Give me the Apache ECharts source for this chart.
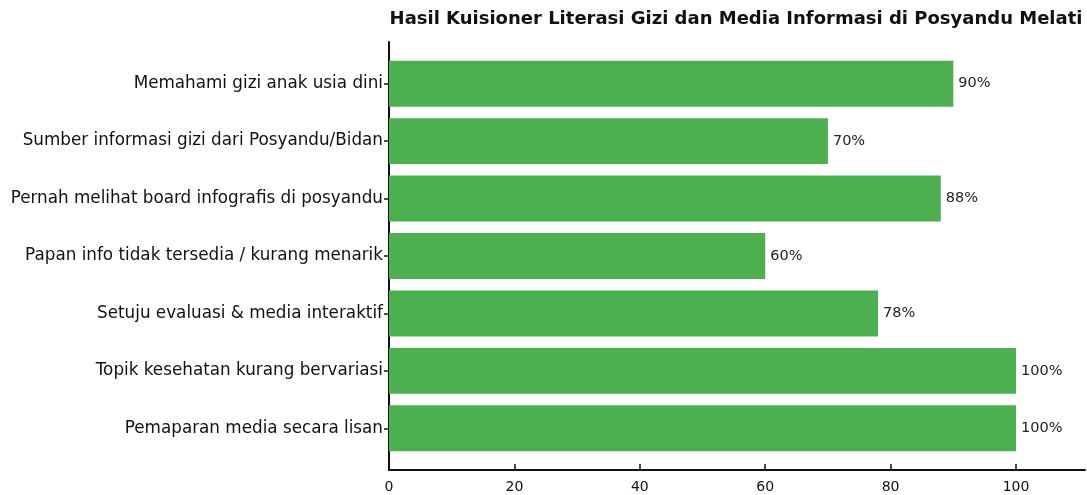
<!DOCTYPE html>
<html><head><meta charset="utf-8">
<script src="https://cdn.jsdelivr.net/npm/echarts@6/dist/echarts.min.js"></script>
<style>html,body{margin:0;padding:0;background:#fff}#c{width:1087px;height:495px}</style>
</head><body><div id="c"></div>
<script>
const titleText = 'Hasil Kuisioner Literasi Gizi dan Media Informasi di Posyandu Melati';
const categories = [
  'Memahami gizi anak usia dini',
  'Sumber informasi gizi dari Posyandu/Bidan',
  'Pernah melihat board infografis di posyandu',
  'Papan info tidak tersedia / kurang menarik',
  'Setuju evaluasi & media interaktif',
  'Topik kesehatan kurang bervariasi',
  'Pemaparan media secara lisan'
];
const values = [90, 70, 88, 60, 78, 100, 100];
const xTicks = [0, 20, 40, 60, 80, 100];

const FONT = '"DejaVu Sans", sans-serif';
const chart = echarts.init(document.getElementById('c'));
chart.setOption({
  animation: false,
  title: {
    text: titleText, left: 731, top: 5, textAlign: 'center',
    textStyle: {fontFamily: FONT, fontWeight: 'bold', fontSize: 18, color: '#111'}
  },
  grid: [
    {left: 389, right: 2, top: 55, bottom: 38},
    {left: 389, right: 2, top: 42, bottom: 25}
  ],
  xAxis: [
    {gridIndex: 0, type: 'value', min: 0, max: 111, show: false},
    {gridIndex: 1, type: 'value', min: 0, max: 111, interval: 20,
     splitLine: {show: false},
     axisLine: {show: true, lineStyle: {color: '#111', width: 2}},
     axisTick: {show: true, inside: true, length: 6, lineStyle: {color: '#111', width: 1.5}, customValues: xTicks},
     axisLabel: {fontFamily: FONT, fontSize: 14, color: '#111', margin: 10, customValues: xTicks}
    }
  ],
  yAxis: [
    {gridIndex: 0, type: 'category', data: categories, inverse: true,
     axisLine: {show: false},
     axisTick: {show: true, alignWithLabel: true, length: 5, lineStyle: {color: '#111', width: 1.5}},
     axisLabel: {fontFamily: FONT, fontSize: 16.8, color: '#111', margin: 6}
    },
    {gridIndex: 1, type: 'value', min: 0, max: 1,
     axisLine: {show: true, lineStyle: {color: '#111', width: 2}},
     axisTick: {show: false}, axisLabel: {show: false}, splitLine: {show: false}
    }
  ],
  series: [{
    type: 'bar', xAxisIndex: 0, yAxisIndex: 0,
    data: values, barWidth: '80%',
    itemStyle: {color: '#4caf50'},
    label: {show: true, position: 'right', distance: 5, formatter: '{c}%',
      fontFamily: FONT, fontSize: 14.5, color: '#222'}
  }]
});
</script></body></html>
